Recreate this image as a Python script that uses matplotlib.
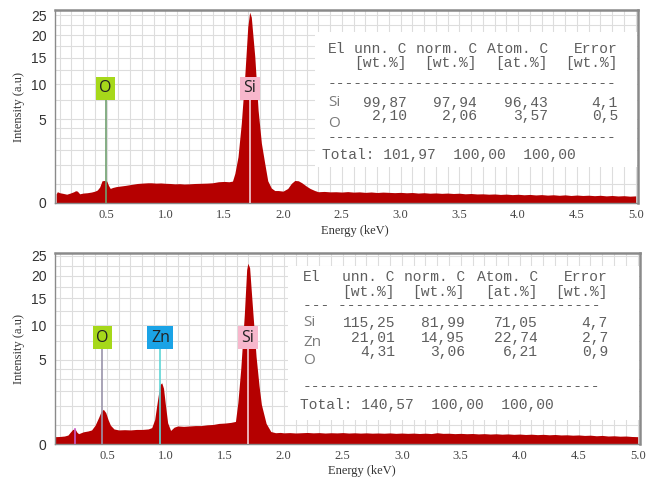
import numpy as np
import matplotlib.pyplot as plt
from matplotlib.patches import Rectangle

# ---- spectrum data (energy keV, intensity a.u.) ----
top_energy = [0.07, 0.08, 0.10, 0.13, 0.16, 0.19, 0.22, 0.235, 0.25, 0.27,
              0.30, 0.335, 0.37, 0.40, 0.42, 0.44, 0.46, 0.48, 0.50, 0.515,
              0.53, 0.55, 0.58, 0.62, 0.66, 0.70, 0.76, 0.80, 0.85, 0.88,
              0.92, 0.96, 1.00, 1.04, 1.08, 1.12, 1.16, 1.20, 1.25, 1.30,
              1.35, 1.40, 1.45, 1.50, 1.54, 1.57, 1.59, 1.617, 1.645, 1.674,
              1.70, 1.716, 1.73, 1.76, 1.788, 1.816, 1.844, 1.87, 1.90, 1.93,
              1.96, 2.00, 2.04, 2.07, 2.10, 2.13, 2.16, 2.20, 2.23, 2.27,
              2.30, 2.35, 2.40, 2.45, 2.50, 2.55, 2.60, 2.65, 2.70, 2.75,
              2.80, 2.85, 2.90, 2.95, 3.00, 3.05, 3.10, 3.15, 3.20, 3.25,
              3.30, 3.35, 3.40, 3.45, 3.50, 3.55, 3.60, 3.65, 3.70, 3.75,
              3.80, 3.85, 3.90, 3.95, 4.00, 4.05, 4.10, 4.15, 4.20, 4.25,
              4.30, 4.35, 4.40, 4.45, 4.50, 4.55, 4.60, 4.65, 4.70, 4.75,
              4.80, 4.85, 4.90, 4.95, 5.00]
top_counts = [0.06, 0.09, 0.075, 0.065, 0.055, 0.07, 0.09, 0.107, 0.10, 0.06,
              0.07, 0.075, 0.085, 0.10, 0.12, 0.18, 0.35, 0.36, 0.34, 0.22,
              0.15, 0.17, 0.19, 0.205, 0.22, 0.24, 0.27, 0.28, 0.29, 0.29,
              0.28, 0.285, 0.275, 0.27, 0.26, 0.265, 0.255, 0.26, 0.27, 0.275,
              0.28, 0.29, 0.32, 0.33, 0.32, 0.34, 0.62, 1.52, 4.5, 11.3,
              22.0, 25.8, 24.5, 15.1, 6.1, 2.53, 1.13, 0.35, 0.16, 0.11,
              0.11, 0.10, 0.15, 0.27, 0.36, 0.35, 0.29, 0.20, 0.15, 0.11,
              0.09, 0.095, 0.088, 0.09, 0.085, 0.092, 0.084, 0.088, 0.08, 0.086,
              0.078, 0.084, 0.08, 0.076, 0.08, 0.074, 0.078, 0.07, 0.075, 0.068,
              0.072, 0.066, 0.07, 0.064, 0.068, 0.06, 0.064, 0.058, 0.06, 0.055,
              0.058, 0.052, 0.056, 0.05, 0.054, 0.048, 0.052, 0.046, 0.05, 0.044,
              0.048, 0.042, 0.047, 0.04, 0.045, 0.04, 0.043, 0.038, 0.042, 0.036,
              0.04, 0.035, 0.038, 0.033, 0.036]

bot_energy = [0.06, 0.10, 0.14, 0.17, 0.19, 0.21, 0.23, 0.245, 0.26, 0.30,
              0.34, 0.37, 0.40, 0.43, 0.45, 0.47, 0.49, 0.51, 0.53, 0.56,
              0.60, 0.65, 0.70, 0.75, 0.80, 0.85, 0.88, 0.905, 0.93, 0.95,
              0.965, 0.98, 0.995, 1.015, 1.04, 1.07, 1.10, 1.15, 1.20, 1.25,
              1.30, 1.35, 1.40, 1.45, 1.50, 1.55, 1.59, 1.61, 1.635, 1.665,
              1.685, 1.695, 1.71, 1.735, 1.765, 1.79, 1.81, 1.85, 1.89, 1.93,
              1.97, 2.00, 2.05, 2.10, 2.15, 2.20, 2.25, 2.30, 2.35, 2.40,
              2.45, 2.50, 2.55, 2.60, 2.65, 2.70, 2.75, 2.80, 2.85, 2.90,
              2.95, 3.00, 3.05, 3.10, 3.15, 3.20, 3.25, 3.30, 3.35, 3.40,
              3.45, 3.50, 3.55, 3.60, 3.65, 3.70, 3.75, 3.80, 3.85, 3.90,
              3.95, 4.00, 4.05, 4.10, 4.15, 4.20, 4.25, 4.30, 4.35, 4.40,
              4.45, 4.50, 4.55, 4.60, 4.65, 4.70, 4.75, 4.80, 4.85, 4.90,
              4.95, 5.00]
bot_counts = [0.038, 0.040, 0.045, 0.057, 0.10, 0.15, 0.16, 0.10, 0.075, 0.105,
              0.12, 0.14, 0.25, 0.50, 0.74, 0.85, 0.70, 0.42, 0.25, 0.16,
              0.14, 0.145, 0.14, 0.15, 0.15, 0.16, 0.19, 0.42, 1.40, 2.50,
              2.65, 2.20, 1.15, 0.32, 0.13, 0.20, 0.23, 0.22, 0.23, 0.24,
              0.24, 0.26, 0.27, 0.30, 0.31, 0.33, 0.36, 1.20, 4.0, 11.8,
              21.5, 23.1, 22.0, 13.0, 5.4, 2.4, 1.1, 0.30, 0.11, 0.09,
              0.095, 0.088, 0.092, 0.086, 0.09, 0.094, 0.088, 0.092, 0.085, 0.09,
              0.087, 0.092, 0.085, 0.089, 0.084, 0.088, 0.083, 0.086, 0.082, 0.087,
              0.08, 0.085, 0.08, 0.084, 0.078, 0.083, 0.077, 0.09, 0.08, 0.082,
              0.076, 0.08, 0.075, 0.078, 0.072, 0.076, 0.07, 0.074, 0.068, 0.072,
              0.066, 0.07, 0.064, 0.068, 0.062, 0.066, 0.06, 0.064, 0.058, 0.06,
              0.055, 0.058, 0.052, 0.055, 0.048, 0.052, 0.045, 0.048, 0.043, 0.045,
              0.04, 0.038]

# peak markers: element, energy, colour of label, colour of line
top_peaks = [("O", 0.49, "#a6d81a", "#6f9f6f"),
             ("Si", 1.718, "#f7b7cc", "#f3d0d6")]
bot_peaks = [("O", 0.462, "#a6d81a", "#9a94aa"),
             ("Zn", 0.953, "#1aa3e6", "#5fd6d6"),
             ("Si", 1.695, "#f7b7cc", "#f3d0d6")]
bot_minor_line = (0.23, 0.16)

# quantification tables
table_head = ["unn. C", "norm. C", "Atom. C", "Error"]
table_units = ["[wt.%]", "[wt.%]", "[at.%]", "[wt.%]"]

top_elems = ["Si", "O"]
top_unn = ["99,87", "2,10"]
top_norm = ["97,94", "2,06"]
top_atom = ["96,43", "3,57"]
top_err = ["4,1", "0,5"]
top_total = ["101,97", "100,00", "100,00"]

bot_elems = ["Si", "Zn", "O"]
bot_unn = ["115,25", "21,01", "4,31"]
bot_norm = ["81,99", "14,95", "3,06"]
bot_atom = ["71,05", "22,74", "6,21"]
bot_err = ["4,7", "2,7", "0,9"]
bot_total = ["140,57", "100,00", "100,00"]

W, H = 661, 479
fig = plt.figure(figsize=(W / 100, H / 100), dpi=100)
fig.patch.set_facecolor("white")


def fx(px):
    return px / W


def fy(py):
    return 1 - py / H


def sq(v):
    return np.sqrt(np.clip(v, 0, None))


def unsq(s):
    return np.square(s)


XTL = ["0.5", "1.0", "1.5", "2.0", "2.5", "3.0", "3.5", "4.0", "4.5", "5.0"]


def make_axes(left, right, top, bottom, ytop, energy, counts, peaks, label_y, xlab_x):
    ax = fig.add_axes([fx(left), fy(bottom), fx(right - left), fy(top) - fy(bottom)])
    ax.set_yscale("function", functions=(sq, unsq))
    ax.set_xlim(0.06, 5.02)
    ax.set_ylim(0, ytop)
    ax.set_xticks(np.arange(0.5, 5.01, 0.5))
    ax.set_xticklabels(XTL, family="Liberation Serif")
    ax.set_xticks(np.arange(0.1, 5.01, 0.1), minor=True)
    ax.set_yticks([0, 5, 10, 15, 20, 25])
    ax.set_yticklabels(["0", "5", "10", "15", "20", "25"], family="Liberation Sans")
    ax.set_yticks([0.25, 1, 2, 3, 4, 7.5, 12.5, 17.5, 22.5], minor=True)
    ax.grid(True, which="both", color="#dddddd", lw=0.8)
    ax.set_axisbelow(True)
    ax.tick_params(which="both", length=0)
    ax.tick_params(axis="x", pad=4, labelsize=9, labelcolor="#444444")
    ax.tick_params(axis="y", pad=6, labelsize=10, labelcolor="#333333")
    for side, sp in ax.spines.items():
        sp.set_color("#8a8a8a")
        sp.set_linewidth(1.8 if side in ("top", "right") else 1.0)

    ax.fill_between(energy, 0, counts, color="#b50000", lw=0, zorder=2)

    for name, e, fc, lc in peaks:
        ax.plot([e, e], [0, label_y], color=lc, lw=1.2, zorder=3)
        ax.text(e, label_y, name, ha="center", va="center", fontsize=11.5,
                family="Open Sans", color="#222222", zorder=4,
                bbox=dict(boxstyle="square,pad=0.22", fc=fc, ec="none"))

    ax.set_ylabel("Intensity (a.u)", family="Liberation Serif", fontsize=9,
                  color="#333333", labelpad=4)
    ax.set_xlabel("Energy (keV)", family="Liberation Serif", fontsize=9,
                  color="#333333")
    ax.xaxis.set_label_coords(xlab_x, -0.112)
    return ax


ax1 = make_axes(55, 638, 10, 203, 26.4, top_energy, top_counts, top_peaks, 9.3, 0.515)
ax2 = make_axes(55, 640, 253, 444, 25.8, bot_energy, bot_counts, bot_peaks, 8.0, 0.525)
ax2.plot([bot_minor_line[0]] * 2, [0, bot_minor_line[1]], color="#c75bc7", lw=1.2, zorder=3)

MONO = dict(family="Liberation Mono", fontsize=10.5, color="#5e5e5e",
            va="center", zorder=5)


def draw_table(box, x_el, cols, ys, elem_ys, x_total, dashes, elems,
               unn, norm, atom, err, total):
    l, t, r, b = box
    fig.patches.append(Rectangle((fx(l), fy(b)), fx(r - l), fy(t) - fy(b),
                                 transform=fig.transFigure, fc="white", ec="none",
                                 zorder=1))
    y_head, y_unit, y_d1, row_ys, y_d2, y_tot = ys
    fig.text(fx(x_el), fy(y_head), "El", ha="left", **MONO)
    for c, h, u in zip(cols, table_head, table_units):
        fig.text(fx(c), fy(y_head), h, ha="right", **MONO)
        fig.text(fx(c), fy(y_unit), u, ha="right", **MONO)
    fig.text(fx(x_el), fy(y_d1), dashes[0], ha="left", **MONO)
    for i, name in enumerate(elems):
        fig.text(fx(x_el), fy(elem_ys[i]), name, family="Open Sans", fontsize=11,
                 color="#7a7a7a", va="center", ha="left", zorder=5)
        for c, vals in zip(cols, (unn, norm, atom, err)):
            fig.text(fx(c), fy(row_ys[i]), vals[i], ha="right", **MONO)
    fig.text(fx(x_el), fy(y_d2), dashes[1], ha="left", **MONO)
    fig.text(fx(x_total), fy(y_tot), "Total: " + "  ".join(total), ha="left", **MONO)


draw_table((315, 32, 637, 167), 328, [407, 477, 548, 618],
           (49, 63, 83, [103, 116], 137, 155), [103, 124], 322,
           ("-" * 33, "-" * 33),
           top_elems, top_unn, top_norm, top_atom, top_err, top_total)
draw_table((288, 266, 639, 420), 303, [395, 465, 538, 608],
           (277, 292, 305, [323, 338, 352], 386, 405), [323, 342, 360], 300,
           ("--- " + "-" * 30, "-" * 34),
           bot_elems, bot_unn, bot_norm, bot_atom, bot_err, bot_total)

fig.savefig("out.png", dpi=100)
